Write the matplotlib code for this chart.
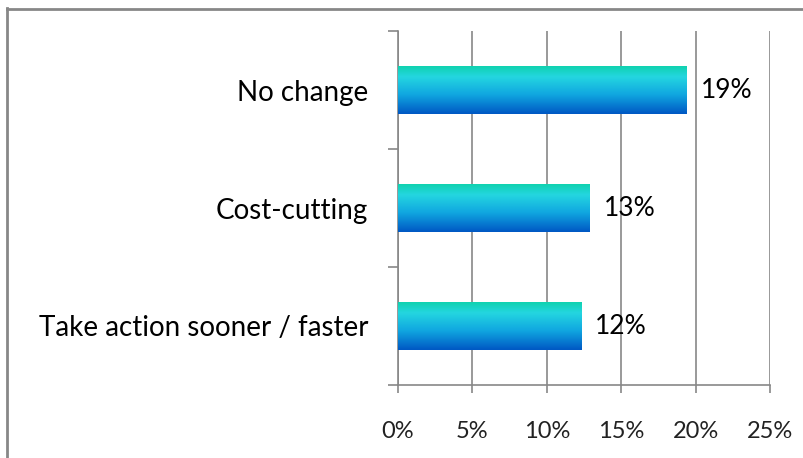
import numpy as np
import matplotlib.pyplot as plt
from matplotlib.colors import LinearSegmentedColormap
from matplotlib.lines import Line2D

categories = ['No change', 'Cost-cutting', 'Take action sooner / faster']
values = [19.4, 12.9, 12.3]
xticks = [0, 5, 10, 15, 20, 25]

plt.rcParams['font.family'] = ['Lato', 'DejaVu Sans']
grey = '#878787'

fig = plt.figure(figsize=(8.04, 4.58), dpi=100)
ax = fig.add_axes([398 / 804, 1 - 385 / 458, 372 / 804, 354 / 458])

# vertical blend used for each bar: green-teal top, blue bottom
grad = LinearSegmentedColormap.from_list('bar', [
    (0.0, '#10d2b0'), (0.22, '#24d6e0'), (0.6, '#10a6e0'), (1.0, '#0058c4')])
shade = np.linspace(0, 1, 100).reshape(-1, 1)

ypos = np.arange(len(categories))
h = 0.4
for y, v in zip(ypos, values):
    ax.imshow(shade, cmap=grad, aspect='auto', interpolation='bilinear',
              extent=(0, v, y + h / 2, y - h / 2), zorder=3)
    ax.text(v + 0.95, y, f'{v:.0f}%', va='center', ha='left', fontsize=19, zorder=4)

ax.set_xlim(0, 25)
ax.set_ylim(len(categories) - 0.5, -0.5)
ax.set_xticks(xticks)
ax.set_xticklabels([f'{t}%' for t in xticks], fontsize=17, color='#222222')
ax.set_yticks(ypos)
ax.set_yticklabels(categories, fontsize=20)
ax.set_yticks([-0.5, 0.5, 1.5, 2.5], minor=True)
ax.tick_params(axis='y', which='major', length=0, pad=21.5)
ax.tick_params(axis='y', which='minor', length=7, color=grey, width=1.2)
ax.tick_params(axis='x', length=6, color=grey, width=1.2, pad=20)
ax.grid(axis='x', color=grey, linewidth=1.2, zorder=0)
ax.set_axisbelow(True)
for s in ['top', 'right']:
    ax.spines[s].set_visible(False)
for s in ['left', 'bottom']:
    ax.spines[s].set_color(grey)
    ax.spines[s].set_linewidth(1.2)

# outer frame, top and left edges only
fig.add_artist(Line2D([7 / 804, 1], [1 - 8.5 / 458] * 2, color=grey, lw=2))
fig.add_artist(Line2D([7.5 / 804] * 2, [0, 1 - 8 / 458], color=grey, lw=2))

fig.savefig('out.png', dpi=100)
